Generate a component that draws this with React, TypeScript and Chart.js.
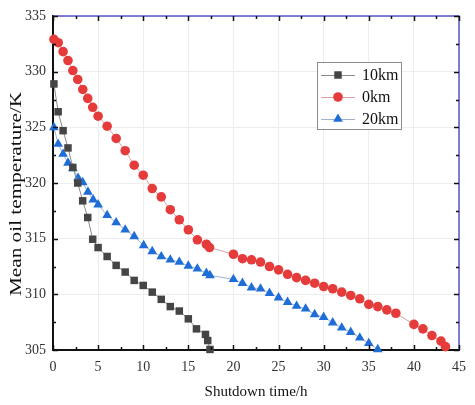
import React, { useEffect, useRef } from 'react';
import { Chart, registerables } from 'chart.js';

Chart.register(...registerables);

const seriesNames = ['10km', '0km', '20km'];

const time10km = [0.1, 0.57, 1.12, 1.66, 2.2, 2.74, 3.29, 3.85, 4.4, 5.0, 6.0, 7.0, 8.0, 9.0, 10.0, 11.0, 12.0, 13.0, 14.0, 15.0, 15.9, 16.9, 17.15, 17.4];
const temp10km = [328.9, 326.4, 324.7, 323.15, 321.4, 320.0, 318.4, 316.9, 314.95, 314.2, 313.4, 312.6, 312.0, 311.25, 310.8, 310.2, 309.55, 308.9, 308.5, 307.8, 306.9, 306.4, 305.85, 305.05];

const time0km = [0.1, 0.58, 1.12, 1.66, 2.2, 2.74, 3.3, 3.85, 4.4, 5.0, 6.0, 7.0, 8.0, 9.0, 10.0, 11.0, 12.0, 13.0, 14.0, 15.0, 16.0, 17.0, 17.35, 20.0, 21.0, 22.0, 23.0, 24.0, 25.0, 26.0, 27.0, 28.0, 29.0, 30.0, 31.0, 32.0, 33.0, 34.0, 35.0, 36.0, 37.0, 38.0, 40.0, 41.0, 42.0, 43.0, 43.5];
const temp0km = [332.9, 332.6, 331.8, 331.0, 330.1, 329.3, 328.4, 327.6, 326.8, 326.0, 325.1, 324.0, 322.9, 321.6, 320.7, 319.5, 318.75, 317.6, 316.7, 315.8, 314.9, 314.5, 314.2, 313.6, 313.2, 313.1, 312.9, 312.5, 312.2, 311.8, 311.5, 311.25, 311.0, 310.7, 310.5, 310.2, 309.9, 309.6, 309.1, 308.9, 308.6, 308.3, 307.3, 306.9, 306.3, 305.8, 305.3];

const time20km = [0.1, 0.57, 1.12, 1.66, 2.2, 2.78, 3.29, 3.87, 4.45, 5.0, 6.0, 7.0, 8.0, 9.0, 10.05, 11.0, 12.0, 13.0, 14.0, 15.0, 16.0, 17.0, 17.4, 20.0, 21.0, 22.0, 23.0, 24.0, 25.0, 26.0, 27.0, 28.0, 29.0, 30.0, 31.0, 32.0, 33.0, 34.0, 35.0, 36.0];
const temp20km = [325.0, 323.5, 322.6, 321.8, 321.3, 320.45, 320.05, 319.2, 318.5, 318.05, 317.1, 316.45, 315.8, 315.2, 314.4, 313.85, 313.4, 313.1, 312.9, 312.55, 312.3, 311.9, 311.7, 311.35, 311.0, 310.6, 310.5, 310.1, 309.7, 309.3, 308.95, 308.7, 308.2, 307.95, 307.45, 307.0, 306.6, 306.1, 305.6, 305.05];

const xTickStep = 5;
const yTickStep = 5;
const xTitle = 'Shutdown time/h';
const yTitle = 'Mean oil temperature/K';

const FONT = "'Times New Roman', 'Liberation Serif', serif";

const toPoints = (xs: number[], ys: number[]) => xs.map((x, i) => ({ x, y: ys[i] }));

const styles = [
  { color: '#454545', line: '#8a8a8a', shape: 'rect', radius: 5.3 },
  { color: '#e63b3b', line: '#d9a0a0', shape: 'circle', radius: 4.8 },
  { color: '#1f6ed8', line: '#9fb3d0', shape: 'triangle', radius: 5.6 },
];

function drawMarker(ctx: CanvasRenderingContext2D, shape: string, x: number, y: number, r: number, color: string) {
  ctx.fillStyle = color;
  ctx.beginPath();
  if (shape === 'circle') {
    ctx.arc(x, y, r, 0, Math.PI * 2);
  } else if (shape === 'rect') {
    const s = r * Math.SQRT1_2;
    ctx.rect(x - s, y - s, 2 * s, 2 * s);
  } else {
    const a = -Math.PI / 2;
    for (let i = 0; i < 3; i++) {
      const ang = a + (i * 2 * Math.PI) / 3;
      const px = x + Math.cos(ang) * r;
      const py = y + Math.sin(ang) * r;
      if (i === 0) ctx.moveTo(px, py);
      else ctx.lineTo(px, py);
    }
    ctx.closePath();
  }
  ctx.fill();
}

const framePlugin = {
  id: 'framePlugin',
  afterDraw(chart: any) {
    const { ctx, chartArea, scales } = chart;
    const { left, right, top, bottom } = chartArea;
    const xs = scales.x;
    const ys = scales.y;
    ctx.save();
    // top & right frame
    ctx.strokeStyle = '#5656c8';
    ctx.lineWidth = 1.5;
    ctx.beginPath();
    ctx.moveTo(left, top);
    ctx.lineTo(right, top);
    ctx.lineTo(right, bottom);
    ctx.stroke();
    // ticks
    ctx.strokeStyle = '#111';
    ctx.lineWidth = 1.5;
    ctx.beginPath();
    for (let v = xs.min; v <= xs.max + 1e-6; v += xTickStep / 2) {
      const px = Math.round(xs.getPixelForValue(v)) + 0.5;
      const len = Math.abs(v % xTickStep) < 1e-6 ? 5 : 3;
      ctx.moveTo(px, bottom);
      ctx.lineTo(px, bottom - len);
      ctx.moveTo(px, top);
      ctx.lineTo(px, top + len);
    }
    for (let v = ys.min; v <= ys.max + 1e-6; v += yTickStep / 2) {
      const py = Math.round(ys.getPixelForValue(v)) + 0.5;
      const len = Math.abs(v % yTickStep) < 1e-6 ? 5 : 3;
      ctx.moveTo(left, py);
      ctx.lineTo(left + len, py);
      ctx.moveTo(right, py);
      ctx.lineTo(right - len, py);
    }
    ctx.stroke();

    // y title
    ctx.fillStyle = '#111';
    ctx.font = `17px ${FONT}`;
    ctx.textAlign = 'center';
    ctx.textBaseline = 'middle';
    ctx.translate(17, 194);
    ctx.rotate(-Math.PI / 2);
    ctx.scale(1.25, 1);
    ctx.fillText(yTitle, 0, 0);
    ctx.restore();

    // legend
    ctx.save();
    const lx = 317, ly = 62, lw = 84, lh = 67;
    ctx.fillStyle = '#fff';
    ctx.fillRect(lx, ly, lw, lh);
    ctx.strokeStyle = '#8c8c8c';
    ctx.lineWidth = 1;
    ctx.strokeRect(lx + 0.5, ly + 0.5, lw, lh);
    chart.data.datasets.forEach((ds: any, i: number) => {
      const st = styles[i];
      const cy = ly + 13 + i * 22;
      ctx.strokeStyle = st.line;
      ctx.lineWidth = 1;
      ctx.beginPath();
      ctx.moveTo(lx + 4, cy + 0.5);
      ctx.lineTo(lx + 38, cy + 0.5);
      ctx.stroke();
      drawMarker(ctx, st.shape, lx + 21, cy, st.radius, st.color);
      ctx.fillStyle = '#111';
      ctx.font = `16px ${FONT}`;
      ctx.textAlign = 'left';
      ctx.textBaseline = 'middle';
      ctx.fillText(ds.label, lx + 45, cy + 1);
    });
    ctx.restore();
  },
};

export default function App() {
  const ref = useRef<HTMLCanvasElement>(null);
  useEffect(() => {
    if (!ref.current) return;
    const series = [
      toPoints(time10km, temp10km),
      toPoints(time0km, temp0km),
      toPoints(time20km, temp20km),
    ];
    const chart = new Chart(ref.current, {
      type: 'line',
      data: {
        datasets: series.map((d, i) => ({
          label: seriesNames[i],
          data: d,
          borderColor: styles[i].line,
          borderWidth: 1,
          backgroundColor: styles[i].color,
          pointBackgroundColor: styles[i].color,
          pointBorderWidth: 0,
          pointBorderColor: styles[i].color,
          pointStyle: styles[i].shape as any,
          pointRadius: styles[i].radius,
          tension: 0,
          clip: 6,
        })),
      },
      options: {
        responsive: false,
        animation: false,
        layout: { padding: { left: 0, top: 16, right: 7, bottom: 0 } },
        plugins: { legend: { display: false }, tooltip: { enabled: false } },
        scales: {
          x: {
            type: 'linear',
            min: 0,
            max: 45,
            ticks: { stepSize: xTickStep, color: '#333', font: { family: FONT, size: 14 }, padding: 9, maxRotation: 0 },
            grid: { color: '#ededed', drawTicks: false, lineWidth: 1 },
            border: { display: true, color: '#111', width: 2 },
            title: { display: true, text: xTitle, color: '#111', font: { family: FONT, size: 15 }, padding: { top: 4, bottom: 4 } },
            afterFit: (s: any) => { s.height = 55; },
          },
          y: {
            type: 'linear',
            min: 305,
            max: 335,
            ticks: { stepSize: yTickStep, color: '#333', font: { family: FONT, size: 14 }, padding: 7 },
            grid: { color: '#ededed', drawTicks: false, lineWidth: 1 },
            border: { display: true, color: '#111', width: 2 },
            afterFit: (s: any) => { s.width = 53; },
          },
        },
      },
      plugins: [framePlugin],
    });
    return () => chart.destroy();
  }, []);
  return (
    <div style={{ position: 'absolute', left: 0, top: 0, width: 475, height: 405, background: '#fff' }}>
      <canvas ref={ref} width={475} height={405} style={{ display: 'block' }} />
    </div>
  );
}
